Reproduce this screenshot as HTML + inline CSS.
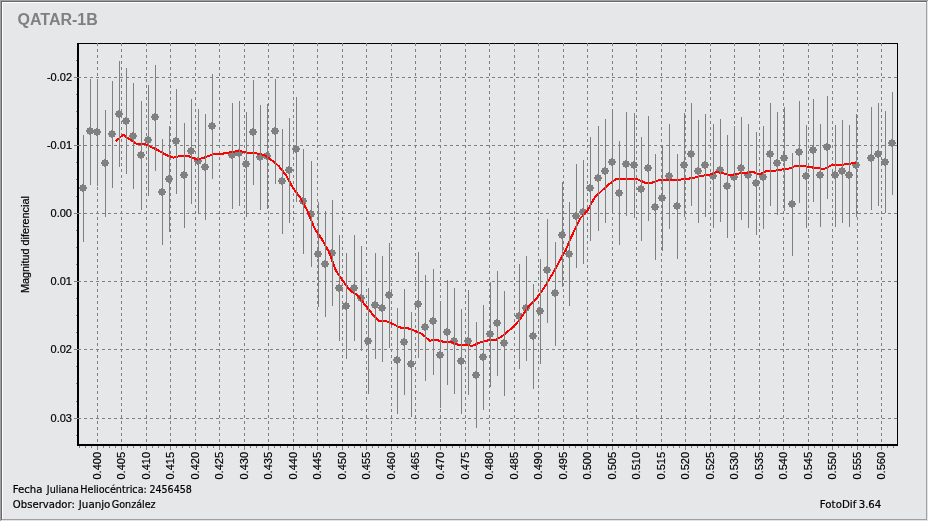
<!DOCTYPE html>
<html><head><meta charset="utf-8"><title>QATAR-1B</title>
<style>html,body{margin:0;padding:0;background:#e6e7e9;width:929px;height:522px;overflow:hidden}svg{display:block}</style>
</head><body>
<svg width="929" height="522" viewBox="0 0 929 522"><rect x="0" y="0" width="929" height="522" fill="#e6e7e9"/>
<rect x="0" y="0" width="928" height="1" fill="#a0a0a0"/>
<rect x="0" y="0" width="1" height="521" fill="#a0a0a0"/>
<rect x="1" y="1" width="926" height="1" fill="#696969"/>
<rect x="1" y="1" width="1" height="519" fill="#696969"/>
<rect x="2" y="2" width="924" height="1" fill="#ffffff"/>
<rect x="2" y="2" width="1" height="517" fill="#ffffff"/>
<rect x="926" y="2" width="1" height="518" fill="#a0a0a0"/>
<rect x="2" y="519" width="925" height="1" fill="#a0a0a0"/>
<rect x="927" y="1" width="1" height="520" fill="#e3e3e3"/>
<rect x="1" y="520" width="927" height="1" fill="#e3e3e3"/>
<rect x="928" y="0" width="1" height="522" fill="#ffffff"/>
<rect x="0" y="521" width="929" height="1" fill="#ffffff"/>
<g fill="#000" shape-rendering="crispEdges"><rect x="77" y="43" width="821" height="1"/><rect x="77" y="43" width="2" height="403"/><rect x="897" y="43" width="1" height="403"/><rect x="77" y="444" width="821" height="2"/></g>
<g stroke="#808080" stroke-width="1" stroke-dasharray="3 3" shape-rendering="crispEdges"><line x1="97.5" y1="43" x2="97.5" y2="444" /><line x1="121.5" y1="43" x2="121.5" y2="444" /><line x1="146.5" y1="43" x2="146.5" y2="444" /><line x1="170.5" y1="43" x2="170.5" y2="444" /><line x1="195.5" y1="43" x2="195.5" y2="444" /><line x1="219.5" y1="43" x2="219.5" y2="444" /><line x1="244.5" y1="43" x2="244.5" y2="444" /><line x1="268.5" y1="43" x2="268.5" y2="444" /><line x1="293.5" y1="43" x2="293.5" y2="444" /><line x1="317.5" y1="43" x2="317.5" y2="444" /><line x1="342.5" y1="43" x2="342.5" y2="444" /><line x1="366.5" y1="43" x2="366.5" y2="444" /><line x1="391.5" y1="43" x2="391.5" y2="444" /><line x1="415.5" y1="43" x2="415.5" y2="444" /><line x1="440.5" y1="43" x2="440.5" y2="444" /><line x1="465.5" y1="43" x2="465.5" y2="444" /><line x1="489.5" y1="43" x2="489.5" y2="444" /><line x1="514.5" y1="43" x2="514.5" y2="444" /><line x1="538.5" y1="43" x2="538.5" y2="444" /><line x1="563.5" y1="43" x2="563.5" y2="444" /><line x1="587.5" y1="43" x2="587.5" y2="444" /><line x1="612.5" y1="43" x2="612.5" y2="444" /><line x1="636.5" y1="43" x2="636.5" y2="444" /><line x1="661.5" y1="43" x2="661.5" y2="444" /><line x1="685.5" y1="43" x2="685.5" y2="444" /><line x1="710.5" y1="43" x2="710.5" y2="444" /><line x1="734.5" y1="43" x2="734.5" y2="444" /><line x1="759.5" y1="43" x2="759.5" y2="444" /><line x1="783.5" y1="43" x2="783.5" y2="444" /><line x1="808.5" y1="43" x2="808.5" y2="444" /><line x1="832.5" y1="43" x2="832.5" y2="444" /><line x1="857.5" y1="43" x2="857.5" y2="444" /><line x1="881.5" y1="43" x2="881.5" y2="444" /><line x1="78" y1="77.5" x2="897" y2="77.5" /><line x1="78" y1="145.5" x2="897" y2="145.5" /><line x1="78" y1="213.5" x2="897" y2="213.5" /><line x1="78" y1="281.5" x2="897" y2="281.5" /><line x1="78" y1="349.5" x2="897" y2="349.5" /><line x1="78" y1="418.5" x2="897" y2="418.5" /></g>
<g fill="#808080" shape-rendering="crispEdges"><path d="M82 184h2v1h2v2h1v2h-1v2h-2v1h-2v-1h-2v-2h-1v-2h1v-2h2z"/><path d="M89 127h2v1h2v2h1v2h-1v2h-2v1h-2v-1h-2v-2h-1v-2h1v-2h2z"/><path d="M96 128h2v1h2v2h1v2h-1v2h-2v1h-2v-1h-2v-2h-1v-2h1v-2h2z"/><path d="M104 159h2v1h2v2h1v2h-1v2h-2v1h-2v-1h-2v-2h-1v-2h1v-2h2z"/><path d="M111 130h2v1h2v2h1v2h-1v2h-2v1h-2v-1h-2v-2h-1v-2h1v-2h2z"/><path d="M118 110h2v1h2v2h1v2h-1v2h-2v1h-2v-1h-2v-2h-1v-2h1v-2h2z"/><path d="M125 117h2v1h2v2h1v2h-1v2h-2v1h-2v-1h-2v-2h-1v-2h1v-2h2z"/><path d="M132 132h2v1h2v2h1v2h-1v2h-2v1h-2v-1h-2v-2h-1v-2h1v-2h2z"/><path d="M140 151h2v1h2v2h1v2h-1v2h-2v1h-2v-1h-2v-2h-1v-2h1v-2h2z"/><path d="M147 136h2v1h2v2h1v2h-1v2h-2v1h-2v-1h-2v-2h-1v-2h1v-2h2z"/><path d="M154 113h2v1h2v2h1v2h-1v2h-2v1h-2v-1h-2v-2h-1v-2h1v-2h2z"/><path d="M161 188h2v1h2v2h1v2h-1v2h-2v1h-2v-1h-2v-2h-1v-2h1v-2h2z"/><path d="M168 175h2v1h2v2h1v2h-1v2h-2v1h-2v-1h-2v-2h-1v-2h1v-2h2z"/><path d="M175 137h2v1h2v2h1v2h-1v2h-2v1h-2v-1h-2v-2h-1v-2h1v-2h2z"/><path d="M183 171h2v1h2v2h1v2h-1v2h-2v1h-2v-1h-2v-2h-1v-2h1v-2h2z"/><path d="M190 147h2v1h2v2h1v2h-1v2h-2v1h-2v-1h-2v-2h-1v-2h1v-2h2z"/><path d="M197 157h2v1h2v2h1v2h-1v2h-2v1h-2v-1h-2v-2h-1v-2h1v-2h2z"/><path d="M204 163h2v1h2v2h1v2h-1v2h-2v1h-2v-1h-2v-2h-1v-2h1v-2h2z"/><path d="M211 122h2v1h2v2h1v2h-1v2h-2v1h-2v-1h-2v-2h-1v-2h1v-2h2z"/><path d="M231 151h2v1h2v2h1v2h-1v2h-2v1h-2v-1h-2v-2h-1v-2h1v-2h2z"/><path d="M238 149h2v1h2v2h1v2h-1v2h-2v1h-2v-1h-2v-2h-1v-2h1v-2h2z"/><path d="M245 160h2v1h2v2h1v2h-1v2h-2v1h-2v-1h-2v-2h-1v-2h1v-2h2z"/><path d="M252 128h2v1h2v2h1v2h-1v2h-2v1h-2v-1h-2v-2h-1v-2h1v-2h2z"/><path d="M259 153h2v1h2v2h1v2h-1v2h-2v1h-2v-1h-2v-2h-1v-2h1v-2h2z"/><path d="M266 152h2v1h2v2h1v2h-1v2h-2v1h-2v-1h-2v-2h-1v-2h1v-2h2z"/><path d="M274 127h2v1h2v2h1v2h-1v2h-2v1h-2v-1h-2v-2h-1v-2h1v-2h2z"/><path d="M281 177h2v1h2v2h1v2h-1v2h-2v1h-2v-1h-2v-2h-1v-2h1v-2h2z"/><path d="M288 166h2v1h2v2h1v2h-1v2h-2v1h-2v-1h-2v-2h-1v-2h1v-2h2z"/><path d="M295 145h2v1h2v2h1v2h-1v2h-2v1h-2v-1h-2v-2h-1v-2h1v-2h2z"/><path d="M302 197h2v1h2v2h1v2h-1v2h-2v1h-2v-1h-2v-2h-1v-2h1v-2h2z"/><path d="M310 210h2v1h2v2h1v2h-1v2h-2v1h-2v-1h-2v-2h-1v-2h1v-2h2z"/><path d="M317 250h2v1h2v2h1v2h-1v2h-2v1h-2v-1h-2v-2h-1v-2h1v-2h2z"/><path d="M324 260h2v1h2v2h1v2h-1v2h-2v1h-2v-1h-2v-2h-1v-2h1v-2h2z"/><path d="M331 249h2v1h2v2h1v2h-1v2h-2v1h-2v-1h-2v-2h-1v-2h1v-2h2z"/><path d="M338 284h2v1h2v2h1v2h-1v2h-2v1h-2v-1h-2v-2h-1v-2h1v-2h2z"/><path d="M345 302h2v1h2v2h1v2h-1v2h-2v1h-2v-1h-2v-2h-1v-2h1v-2h2z"/><path d="M353 284h2v1h2v2h1v2h-1v2h-2v1h-2v-1h-2v-2h-1v-2h1v-2h2z"/><path d="M360 294h2v1h2v2h1v2h-1v2h-2v1h-2v-1h-2v-2h-1v-2h1v-2h2z"/><path d="M367 337h2v1h2v2h1v2h-1v2h-2v1h-2v-1h-2v-2h-1v-2h1v-2h2z"/><path d="M374 301h2v1h2v2h1v2h-1v2h-2v1h-2v-1h-2v-2h-1v-2h1v-2h2z"/><path d="M381 304h2v1h2v2h1v2h-1v2h-2v1h-2v-1h-2v-2h-1v-2h1v-2h2z"/><path d="M388 291h2v1h2v2h1v2h-1v2h-2v1h-2v-1h-2v-2h-1v-2h1v-2h2z"/><path d="M396 356h2v1h2v2h1v2h-1v2h-2v1h-2v-1h-2v-2h-1v-2h1v-2h2z"/><path d="M403 338h2v1h2v2h1v2h-1v2h-2v1h-2v-1h-2v-2h-1v-2h1v-2h2z"/><path d="M410 360h2v1h2v2h1v2h-1v2h-2v1h-2v-1h-2v-2h-1v-2h1v-2h2z"/><path d="M417 300h2v1h2v2h1v2h-1v2h-2v1h-2v-1h-2v-2h-1v-2h1v-2h2z"/><path d="M424 323h2v1h2v2h1v2h-1v2h-2v1h-2v-1h-2v-2h-1v-2h1v-2h2z"/><path d="M432 317h2v1h2v2h1v2h-1v2h-2v1h-2v-1h-2v-2h-1v-2h1v-2h2z"/><path d="M439 351h2v1h2v2h1v2h-1v2h-2v1h-2v-1h-2v-2h-1v-2h1v-2h2z"/><path d="M446 328h2v1h2v2h1v2h-1v2h-2v1h-2v-1h-2v-2h-1v-2h1v-2h2z"/><path d="M453 337h2v1h2v2h1v2h-1v2h-2v1h-2v-1h-2v-2h-1v-2h1v-2h2z"/><path d="M460 357h2v1h2v2h1v2h-1v2h-2v1h-2v-1h-2v-2h-1v-2h1v-2h2z"/><path d="M467 337h2v1h2v2h1v2h-1v2h-2v1h-2v-1h-2v-2h-1v-2h1v-2h2z"/><path d="M475 371h2v1h2v2h1v2h-1v2h-2v1h-2v-1h-2v-2h-1v-2h1v-2h2z"/><path d="M482 353h2v1h2v2h1v2h-1v2h-2v1h-2v-1h-2v-2h-1v-2h1v-2h2z"/><path d="M489 330h2v1h2v2h1v2h-1v2h-2v1h-2v-1h-2v-2h-1v-2h1v-2h2z"/><path d="M496 319h2v1h2v2h1v2h-1v2h-2v1h-2v-1h-2v-2h-1v-2h1v-2h2z"/><path d="M503 339h2v1h2v2h1v2h-1v2h-2v1h-2v-1h-2v-2h-1v-2h1v-2h2z"/><path d="M518 312h2v1h2v2h1v2h-1v2h-2v1h-2v-1h-2v-2h-1v-2h1v-2h2z"/><path d="M525 304h2v1h2v2h1v2h-1v2h-2v1h-2v-1h-2v-2h-1v-2h1v-2h2z"/><path d="M532 332h2v1h2v2h1v2h-1v2h-2v1h-2v-1h-2v-2h-1v-2h1v-2h2z"/><path d="M539 307h2v1h2v2h1v2h-1v2h-2v1h-2v-1h-2v-2h-1v-2h1v-2h2z"/><path d="M546 266h2v1h2v2h1v2h-1v2h-2v1h-2v-1h-2v-2h-1v-2h1v-2h2z"/><path d="M554 289h2v1h2v2h1v2h-1v2h-2v1h-2v-1h-2v-2h-1v-2h1v-2h2z"/><path d="M561 231h2v1h2v2h1v2h-1v2h-2v1h-2v-1h-2v-2h-1v-2h1v-2h2z"/><path d="M568 250h2v1h2v2h1v2h-1v2h-2v1h-2v-1h-2v-2h-1v-2h1v-2h2z"/><path d="M575 212h2v1h2v2h1v2h-1v2h-2v1h-2v-1h-2v-2h-1v-2h1v-2h2z"/><path d="M582 208h2v1h2v2h1v2h-1v2h-2v1h-2v-1h-2v-2h-1v-2h1v-2h2z"/><path d="M589 184h2v1h2v2h1v2h-1v2h-2v1h-2v-1h-2v-2h-1v-2h1v-2h2z"/><path d="M597 174h2v1h2v2h1v2h-1v2h-2v1h-2v-1h-2v-2h-1v-2h1v-2h2z"/><path d="M604 167h2v1h2v2h1v2h-1v2h-2v1h-2v-1h-2v-2h-1v-2h1v-2h2z"/><path d="M611 158h2v1h2v2h1v2h-1v2h-2v1h-2v-1h-2v-2h-1v-2h1v-2h2z"/><path d="M618 189h2v1h2v2h1v2h-1v2h-2v1h-2v-1h-2v-2h-1v-2h1v-2h2z"/><path d="M625 160h2v1h2v2h1v2h-1v2h-2v1h-2v-1h-2v-2h-1v-2h1v-2h2z"/><path d="M633 161h2v1h2v2h1v2h-1v2h-2v1h-2v-1h-2v-2h-1v-2h1v-2h2z"/><path d="M640 185h2v1h2v2h1v2h-1v2h-2v1h-2v-1h-2v-2h-1v-2h1v-2h2z"/><path d="M647 164h2v1h2v2h1v2h-1v2h-2v1h-2v-1h-2v-2h-1v-2h1v-2h2z"/><path d="M654 203h2v1h2v2h1v2h-1v2h-2v1h-2v-1h-2v-2h-1v-2h1v-2h2z"/><path d="M661 194h2v1h2v2h1v2h-1v2h-2v1h-2v-1h-2v-2h-1v-2h1v-2h2z"/><path d="M668 172h2v1h2v2h1v2h-1v2h-2v1h-2v-1h-2v-2h-1v-2h1v-2h2z"/><path d="M676 202h2v1h2v2h1v2h-1v2h-2v1h-2v-1h-2v-2h-1v-2h1v-2h2z"/><path d="M683 161h2v1h2v2h1v2h-1v2h-2v1h-2v-1h-2v-2h-1v-2h1v-2h2z"/><path d="M690 150h2v1h2v2h1v2h-1v2h-2v1h-2v-1h-2v-2h-1v-2h1v-2h2z"/><path d="M697 167h2v1h2v2h1v2h-1v2h-2v1h-2v-1h-2v-2h-1v-2h1v-2h2z"/><path d="M704 161h2v1h2v2h1v2h-1v2h-2v1h-2v-1h-2v-2h-1v-2h1v-2h2z"/><path d="M712 172h2v1h2v2h1v2h-1v2h-2v1h-2v-1h-2v-2h-1v-2h1v-2h2z"/><path d="M719 166h2v1h2v2h1v2h-1v2h-2v1h-2v-1h-2v-2h-1v-2h1v-2h2z"/><path d="M726 182h2v1h2v2h1v2h-1v2h-2v1h-2v-1h-2v-2h-1v-2h1v-2h2z"/><path d="M733 173h2v1h2v2h1v2h-1v2h-2v1h-2v-1h-2v-2h-1v-2h1v-2h2z"/><path d="M740 164h2v1h2v2h1v2h-1v2h-2v1h-2v-1h-2v-2h-1v-2h1v-2h2z"/><path d="M747 171h2v1h2v2h1v2h-1v2h-2v1h-2v-1h-2v-2h-1v-2h1v-2h2z"/><path d="M755 179h2v1h2v2h1v2h-1v2h-2v1h-2v-1h-2v-2h-1v-2h1v-2h2z"/><path d="M762 173h2v1h2v2h1v2h-1v2h-2v1h-2v-1h-2v-2h-1v-2h1v-2h2z"/><path d="M769 150h2v1h2v2h1v2h-1v2h-2v1h-2v-1h-2v-2h-1v-2h1v-2h2z"/><path d="M776 159h2v1h2v2h1v2h-1v2h-2v1h-2v-1h-2v-2h-1v-2h1v-2h2z"/><path d="M783 154h2v1h2v2h1v2h-1v2h-2v1h-2v-1h-2v-2h-1v-2h1v-2h2z"/><path d="M791 200h2v1h2v2h1v2h-1v2h-2v1h-2v-1h-2v-2h-1v-2h1v-2h2z"/><path d="M798 148h2v1h2v2h1v2h-1v2h-2v1h-2v-1h-2v-2h-1v-2h1v-2h2z"/><path d="M805 172h2v1h2v2h1v2h-1v2h-2v1h-2v-1h-2v-2h-1v-2h1v-2h2z"/><path d="M812 146h2v1h2v2h1v2h-1v2h-2v1h-2v-1h-2v-2h-1v-2h1v-2h2z"/><path d="M819 171h2v1h2v2h1v2h-1v2h-2v1h-2v-1h-2v-2h-1v-2h1v-2h2z"/><path d="M826 143h2v1h2v2h1v2h-1v2h-2v1h-2v-1h-2v-2h-1v-2h1v-2h2z"/><path d="M834 171h2v1h2v2h1v2h-1v2h-2v1h-2v-1h-2v-2h-1v-2h1v-2h2z"/><path d="M841 167h2v1h2v2h1v2h-1v2h-2v1h-2v-1h-2v-2h-1v-2h1v-2h2z"/><path d="M848 171h2v1h2v2h1v2h-1v2h-2v1h-2v-1h-2v-2h-1v-2h1v-2h2z"/><path d="M855 161h2v1h2v2h1v2h-1v2h-2v1h-2v-1h-2v-2h-1v-2h1v-2h2z"/><path d="M870 154h2v1h2v2h1v2h-1v2h-2v1h-2v-1h-2v-2h-1v-2h1v-2h2z"/><path d="M877 150h2v1h2v2h1v2h-1v2h-2v1h-2v-1h-2v-2h-1v-2h1v-2h2z"/><path d="M884 158h2v1h2v2h1v2h-1v2h-2v1h-2v-1h-2v-2h-1v-2h1v-2h2z"/><path d="M891 139h2v1h2v2h1v2h-1v2h-2v1h-2v-1h-2v-2h-1v-2h1v-2h2z"/></g>
<polyline points="115.90,141.30 123.10,134.60 130.30,139.80 137.50,144.50 144.60,143.70 151.80,147.30 159.00,150.80 166.20,155.00 173.40,157.60 180.50,155.80 188.90,156.30 197.30,159.70 205.70,157.10 214.10,153.90 222.50,153.70 230.80,152.20 239.20,150.80 247.60,152.90 256.00,153.30 264.40,155.10 271.50,160.10 278.70,166.00 285.90,175.00 293.10,188.20 300.30,197.80 307.50,211.00 314.60,228.50 321.80,239.20 329.00,252.00 336.20,271.20 343.40,281.60 350.50,291.00 357.60,295.10 364.80,304.70 372.00,313.60 379.20,321.20 386.40,321.10 393.50,324.40 400.70,327.60 407.90,328.30 415.10,330.90 422.30,334.10 429.50,340.70 436.60,340.00 443.80,341.80 451.00,341.80 458.20,344.90 465.40,344.90 472.50,345.80 480.40,342.30 488.30,340.30 496.20,339.70 504.10,334.90 512.00,327.80 519.90,319.60 527.80,307.40 535.70,299.40 543.60,288.70 551.50,275.60 558.60,262.80 565.80,249.80 573.00,233.30 580.20,218.40 587.40,210.70 594.50,197.80 601.70,190.80 608.90,184.30 616.10,179.00 623.30,179.00 630.50,179.00 637.60,179.20 644.80,182.70 652.00,182.70 659.20,180.10 666.40,180.00 673.50,180.00 680.70,179.50 687.90,178.80 695.10,177.50 702.30,175.70 709.50,174.80 716.60,172.00 723.80,173.50 731.00,175.10 738.20,173.60 745.40,173.00 752.50,171.70 759.70,174.50 766.90,170.90 774.10,170.90 781.30,169.60 788.50,168.80 795.60,166.00 802.80,165.90 810.00,167.20 817.20,168.10 824.40,168.90 832.30,165.00 840.20,165.00 848.10,163.90 856.00,162.90" fill="none" stroke="#ff0000" stroke-width="2" stroke-linejoin="round" shape-rendering="crispEdges"/>
<g fill="#808080" shape-rendering="crispEdges"><rect x="83" y="135" width="1" height="107"/><rect x="90" y="79" width="1" height="106"/><rect x="97" y="79" width="1" height="107"/><rect x="105" y="110" width="1" height="107"/><rect x="112" y="81" width="1" height="107"/><rect x="119" y="61" width="1" height="106"/><rect x="126" y="68" width="1" height="106"/><rect x="133" y="83" width="1" height="106"/><rect x="141" y="101" width="1" height="109"/><rect x="148" y="85" width="1" height="111"/><rect x="155" y="65" width="1" height="106"/><rect x="162" y="139" width="1" height="106"/><rect x="169" y="126" width="1" height="106"/><rect x="176" y="89" width="1" height="105"/><rect x="184" y="123" width="1" height="105"/><rect x="191" y="99" width="1" height="105"/><rect x="198" y="109" width="1" height="105"/><rect x="205" y="114" width="1" height="106"/><rect x="212" y="74" width="1" height="105"/><rect x="232" y="103" width="1" height="106"/><rect x="239" y="101" width="1" height="105"/><rect x="246" y="112" width="1" height="105"/><rect x="253" y="80" width="1" height="105"/><rect x="260" y="105" width="1" height="105"/><rect x="267" y="104" width="1" height="105"/><rect x="275" y="79" width="1" height="105"/><rect x="282" y="129" width="1" height="105"/><rect x="289" y="118" width="1" height="105"/><rect x="296" y="97" width="1" height="105"/><rect x="303" y="149" width="1" height="105"/><rect x="311" y="161" width="1" height="106"/><rect x="318" y="202" width="1" height="105"/><rect x="325" y="211" width="1" height="106"/><rect x="332" y="200" width="1" height="106"/><rect x="339" y="235" width="1" height="106"/><rect x="346" y="253" width="1" height="106"/><rect x="354" y="235" width="1" height="106"/><rect x="361" y="246" width="1" height="105"/><rect x="368" y="288" width="1" height="106"/><rect x="375" y="253" width="1" height="106"/><rect x="382" y="256" width="1" height="106"/><rect x="389" y="243" width="1" height="105"/><rect x="397" y="308" width="1" height="106"/><rect x="404" y="289" width="1" height="106"/><rect x="411" y="312" width="1" height="105"/><rect x="418" y="252" width="1" height="106"/><rect x="425" y="275" width="1" height="106"/><rect x="433" y="269" width="1" height="106"/><rect x="440" y="301" width="1" height="107"/><rect x="447" y="280" width="1" height="105"/><rect x="454" y="288" width="1" height="106"/><rect x="461" y="309" width="1" height="105"/><rect x="468" y="290" width="1" height="105"/><rect x="476" y="322" width="1" height="106"/><rect x="483" y="305" width="1" height="105"/><rect x="490" y="282" width="1" height="105"/><rect x="497" y="271" width="1" height="105"/><rect x="504" y="291" width="1" height="105"/><rect x="519" y="264" width="1" height="105"/><rect x="526" y="256" width="1" height="105"/><rect x="533" y="284" width="1" height="105"/><rect x="540" y="259" width="1" height="105"/><rect x="547" y="219" width="1" height="104"/><rect x="555" y="242" width="1" height="104"/><rect x="562" y="182" width="1" height="105"/><rect x="569" y="202" width="1" height="104"/><rect x="576" y="164" width="1" height="104"/><rect x="583" y="160" width="1" height="104"/><rect x="590" y="137" width="1" height="104"/><rect x="598" y="126" width="1" height="105"/><rect x="605" y="119" width="1" height="104"/><rect x="612" y="109" width="1" height="104"/><rect x="619" y="141" width="1" height="104"/><rect x="626" y="112" width="1" height="104"/><rect x="634" y="113" width="1" height="105"/><rect x="641" y="137" width="1" height="104"/><rect x="648" y="116" width="1" height="105"/><rect x="655" y="154" width="1" height="106"/><rect x="662" y="145" width="1" height="106"/><rect x="669" y="124" width="1" height="105"/><rect x="677" y="154" width="1" height="105"/><rect x="684" y="113" width="1" height="104"/><rect x="691" y="103" width="1" height="103"/><rect x="698" y="120" width="1" height="103"/><rect x="705" y="114" width="1" height="103"/><rect x="713" y="124" width="1" height="104"/><rect x="720" y="119" width="1" height="103"/><rect x="727" y="135" width="1" height="103"/><rect x="734" y="126" width="1" height="106"/><rect x="741" y="117" width="1" height="103"/><rect x="748" y="124" width="1" height="104"/><rect x="756" y="132" width="1" height="103"/><rect x="763" y="126" width="1" height="103"/><rect x="770" y="103" width="1" height="103"/><rect x="777" y="112" width="1" height="103"/><rect x="784" y="107" width="1" height="104"/><rect x="792" y="153" width="1" height="103"/><rect x="799" y="101" width="1" height="102"/><rect x="806" y="125" width="1" height="103"/><rect x="813" y="99" width="1" height="103"/><rect x="820" y="124" width="1" height="103"/><rect x="827" y="96" width="1" height="103"/><rect x="835" y="125" width="1" height="102"/><rect x="842" y="120" width="1" height="103"/><rect x="849" y="125" width="1" height="102"/><rect x="856" y="114" width="1" height="103"/><rect x="871" y="107" width="1" height="103"/><rect x="878" y="103" width="1" height="103"/><rect x="885" y="111" width="1" height="102"/><rect x="892" y="92" width="1" height="103"/></g>
<g fill="#808080" shape-rendering="crispEdges"><rect x="74" y="77" width="5" height="1"/><rect x="74" y="145" width="5" height="1"/><rect x="74" y="213" width="5" height="1"/><rect x="74" y="281" width="5" height="1"/><rect x="74" y="349" width="5" height="1"/><rect x="74" y="418" width="5" height="1"/><rect x="76" y="60" width="1" height="1"/><rect x="76" y="94" width="1" height="1"/><rect x="76" y="111" width="1" height="1"/><rect x="76" y="128" width="1" height="1"/><rect x="76" y="162" width="1" height="1"/><rect x="76" y="179" width="1" height="1"/><rect x="76" y="196" width="1" height="1"/><rect x="76" y="230" width="1" height="1"/><rect x="76" y="247" width="1" height="1"/><rect x="76" y="264" width="1" height="1"/><rect x="76" y="298" width="1" height="1"/><rect x="76" y="315" width="1" height="1"/><rect x="76" y="332" width="1" height="1"/><rect x="76" y="366" width="1" height="1"/><rect x="76" y="383" width="1" height="1"/><rect x="76" y="401" width="1" height="1"/><rect x="76" y="435" width="1" height="1"/><rect x="97" y="446" width="1" height="4"/><rect x="121" y="446" width="1" height="4"/><rect x="146" y="446" width="1" height="4"/><rect x="170" y="446" width="1" height="4"/><rect x="195" y="446" width="1" height="4"/><rect x="219" y="446" width="1" height="4"/><rect x="244" y="446" width="1" height="4"/><rect x="268" y="446" width="1" height="4"/><rect x="293" y="446" width="1" height="4"/><rect x="317" y="446" width="1" height="4"/><rect x="342" y="446" width="1" height="4"/><rect x="366" y="446" width="1" height="4"/><rect x="391" y="446" width="1" height="4"/><rect x="415" y="446" width="1" height="4"/><rect x="440" y="446" width="1" height="4"/><rect x="465" y="446" width="1" height="4"/><rect x="489" y="446" width="1" height="4"/><rect x="514" y="446" width="1" height="4"/><rect x="538" y="446" width="1" height="4"/><rect x="563" y="446" width="1" height="4"/><rect x="587" y="446" width="1" height="4"/><rect x="612" y="446" width="1" height="4"/><rect x="636" y="446" width="1" height="4"/><rect x="661" y="446" width="1" height="4"/><rect x="685" y="446" width="1" height="4"/><rect x="710" y="446" width="1" height="4"/><rect x="734" y="446" width="1" height="4"/><rect x="759" y="446" width="1" height="4"/><rect x="783" y="446" width="1" height="4"/><rect x="808" y="446" width="1" height="4"/><rect x="832" y="446" width="1" height="4"/><rect x="857" y="446" width="1" height="4"/><rect x="881" y="446" width="1" height="4"/><rect x="79" y="446" width="1" height="2"/><rect x="85" y="446" width="1" height="2"/><rect x="91" y="446" width="1" height="2"/><rect x="103" y="446" width="1" height="2"/><rect x="109" y="446" width="1" height="2"/><rect x="115" y="446" width="1" height="2"/><rect x="127" y="446" width="1" height="2"/><rect x="133" y="446" width="1" height="2"/><rect x="140" y="446" width="1" height="2"/><rect x="152" y="446" width="1" height="2"/><rect x="158" y="446" width="1" height="2"/><rect x="164" y="446" width="1" height="2"/><rect x="176" y="446" width="1" height="2"/><rect x="182" y="446" width="1" height="2"/><rect x="189" y="446" width="1" height="2"/><rect x="201" y="446" width="1" height="2"/><rect x="207" y="446" width="1" height="2"/><rect x="213" y="446" width="1" height="2"/><rect x="225" y="446" width="1" height="2"/><rect x="231" y="446" width="1" height="2"/><rect x="238" y="446" width="1" height="2"/><rect x="250" y="446" width="1" height="2"/><rect x="256" y="446" width="1" height="2"/><rect x="262" y="446" width="1" height="2"/><rect x="274" y="446" width="1" height="2"/><rect x="280" y="446" width="1" height="2"/><rect x="287" y="446" width="1" height="2"/><rect x="299" y="446" width="1" height="2"/><rect x="305" y="446" width="1" height="2"/><rect x="311" y="446" width="1" height="2"/><rect x="323" y="446" width="1" height="2"/><rect x="329" y="446" width="1" height="2"/><rect x="336" y="446" width="1" height="2"/><rect x="348" y="446" width="1" height="2"/><rect x="354" y="446" width="1" height="2"/><rect x="360" y="446" width="1" height="2"/><rect x="372" y="446" width="1" height="2"/><rect x="378" y="446" width="1" height="2"/><rect x="385" y="446" width="1" height="2"/><rect x="397" y="446" width="1" height="2"/><rect x="403" y="446" width="1" height="2"/><rect x="409" y="446" width="1" height="2"/><rect x="421" y="446" width="1" height="2"/><rect x="427" y="446" width="1" height="2"/><rect x="434" y="446" width="1" height="2"/><rect x="446" y="446" width="1" height="2"/><rect x="452" y="446" width="1" height="2"/><rect x="459" y="446" width="1" height="2"/><rect x="471" y="446" width="1" height="2"/><rect x="477" y="446" width="1" height="2"/><rect x="483" y="446" width="1" height="2"/><rect x="495" y="446" width="1" height="2"/><rect x="501" y="446" width="1" height="2"/><rect x="508" y="446" width="1" height="2"/><rect x="520" y="446" width="1" height="2"/><rect x="526" y="446" width="1" height="2"/><rect x="532" y="446" width="1" height="2"/><rect x="544" y="446" width="1" height="2"/><rect x="550" y="446" width="1" height="2"/><rect x="557" y="446" width="1" height="2"/><rect x="569" y="446" width="1" height="2"/><rect x="575" y="446" width="1" height="2"/><rect x="581" y="446" width="1" height="2"/><rect x="593" y="446" width="1" height="2"/><rect x="599" y="446" width="1" height="2"/><rect x="606" y="446" width="1" height="2"/><rect x="618" y="446" width="1" height="2"/><rect x="624" y="446" width="1" height="2"/><rect x="630" y="446" width="1" height="2"/><rect x="642" y="446" width="1" height="2"/><rect x="648" y="446" width="1" height="2"/><rect x="655" y="446" width="1" height="2"/><rect x="667" y="446" width="1" height="2"/><rect x="673" y="446" width="1" height="2"/><rect x="679" y="446" width="1" height="2"/><rect x="691" y="446" width="1" height="2"/><rect x="697" y="446" width="1" height="2"/><rect x="704" y="446" width="1" height="2"/><rect x="716" y="446" width="1" height="2"/><rect x="722" y="446" width="1" height="2"/><rect x="728" y="446" width="1" height="2"/><rect x="740" y="446" width="1" height="2"/><rect x="746" y="446" width="1" height="2"/><rect x="753" y="446" width="1" height="2"/><rect x="765" y="446" width="1" height="2"/><rect x="771" y="446" width="1" height="2"/><rect x="777" y="446" width="1" height="2"/><rect x="789" y="446" width="1" height="2"/><rect x="795" y="446" width="1" height="2"/><rect x="802" y="446" width="1" height="2"/><rect x="814" y="446" width="1" height="2"/><rect x="820" y="446" width="1" height="2"/><rect x="826" y="446" width="1" height="2"/><rect x="838" y="446" width="1" height="2"/><rect x="844" y="446" width="1" height="2"/><rect x="851" y="446" width="1" height="2"/><rect x="863" y="446" width="1" height="2"/><rect x="869" y="446" width="1" height="2"/><rect x="875" y="446" width="1" height="2"/><rect x="887" y="446" width="1" height="2"/><rect x="893" y="446" width="1" height="2"/></g>
<text x="17.5" y="25" font-family="'Liberation Sans', Arial, sans-serif" font-weight="bold" font-size="16" fill="#808080">QATAR-1B</text><text x="72" y="81" text-anchor="end" font-family="'Liberation Sans', Arial, sans-serif" font-size="11" fill="#000" stroke="#000" stroke-width="0.2">-0.02</text><text x="72" y="149" text-anchor="end" font-family="'Liberation Sans', Arial, sans-serif" font-size="11" fill="#000" stroke="#000" stroke-width="0.2">-0.01</text><text x="72" y="217" text-anchor="end" font-family="'Liberation Sans', Arial, sans-serif" font-size="11" fill="#000" stroke="#000" stroke-width="0.2">0.00</text><text x="72" y="285" text-anchor="end" font-family="'Liberation Sans', Arial, sans-serif" font-size="11" fill="#000" stroke="#000" stroke-width="0.2">0.01</text><text x="72" y="353" text-anchor="end" font-family="'Liberation Sans', Arial, sans-serif" font-size="11" fill="#000" stroke="#000" stroke-width="0.2">0.02</text><text x="72" y="422" text-anchor="end" font-family="'Liberation Sans', Arial, sans-serif" font-size="11" fill="#000" stroke="#000" stroke-width="0.2">0.03</text><text transform="translate(100.5,452) rotate(-90)" text-anchor="end" font-family="'Liberation Sans', Arial, sans-serif" font-size="11" fill="#000" stroke="#000" stroke-width="0.2">0.400</text><text transform="translate(124.5,452) rotate(-90)" text-anchor="end" font-family="'Liberation Sans', Arial, sans-serif" font-size="11" fill="#000" stroke="#000" stroke-width="0.2">0.405</text><text transform="translate(149.5,452) rotate(-90)" text-anchor="end" font-family="'Liberation Sans', Arial, sans-serif" font-size="11" fill="#000" stroke="#000" stroke-width="0.2">0.410</text><text transform="translate(173.5,452) rotate(-90)" text-anchor="end" font-family="'Liberation Sans', Arial, sans-serif" font-size="11" fill="#000" stroke="#000" stroke-width="0.2">0.415</text><text transform="translate(198.5,452) rotate(-90)" text-anchor="end" font-family="'Liberation Sans', Arial, sans-serif" font-size="11" fill="#000" stroke="#000" stroke-width="0.2">0.420</text><text transform="translate(222.5,452) rotate(-90)" text-anchor="end" font-family="'Liberation Sans', Arial, sans-serif" font-size="11" fill="#000" stroke="#000" stroke-width="0.2">0.425</text><text transform="translate(247.5,452) rotate(-90)" text-anchor="end" font-family="'Liberation Sans', Arial, sans-serif" font-size="11" fill="#000" stroke="#000" stroke-width="0.2">0.430</text><text transform="translate(271.5,452) rotate(-90)" text-anchor="end" font-family="'Liberation Sans', Arial, sans-serif" font-size="11" fill="#000" stroke="#000" stroke-width="0.2">0.435</text><text transform="translate(296.5,452) rotate(-90)" text-anchor="end" font-family="'Liberation Sans', Arial, sans-serif" font-size="11" fill="#000" stroke="#000" stroke-width="0.2">0.440</text><text transform="translate(320.5,452) rotate(-90)" text-anchor="end" font-family="'Liberation Sans', Arial, sans-serif" font-size="11" fill="#000" stroke="#000" stroke-width="0.2">0.445</text><text transform="translate(345.5,452) rotate(-90)" text-anchor="end" font-family="'Liberation Sans', Arial, sans-serif" font-size="11" fill="#000" stroke="#000" stroke-width="0.2">0.450</text><text transform="translate(369.5,452) rotate(-90)" text-anchor="end" font-family="'Liberation Sans', Arial, sans-serif" font-size="11" fill="#000" stroke="#000" stroke-width="0.2">0.455</text><text transform="translate(394.5,452) rotate(-90)" text-anchor="end" font-family="'Liberation Sans', Arial, sans-serif" font-size="11" fill="#000" stroke="#000" stroke-width="0.2">0.460</text><text transform="translate(418.5,452) rotate(-90)" text-anchor="end" font-family="'Liberation Sans', Arial, sans-serif" font-size="11" fill="#000" stroke="#000" stroke-width="0.2">0.465</text><text transform="translate(443.5,452) rotate(-90)" text-anchor="end" font-family="'Liberation Sans', Arial, sans-serif" font-size="11" fill="#000" stroke="#000" stroke-width="0.2">0.470</text><text transform="translate(468.5,452) rotate(-90)" text-anchor="end" font-family="'Liberation Sans', Arial, sans-serif" font-size="11" fill="#000" stroke="#000" stroke-width="0.2">0.475</text><text transform="translate(492.5,452) rotate(-90)" text-anchor="end" font-family="'Liberation Sans', Arial, sans-serif" font-size="11" fill="#000" stroke="#000" stroke-width="0.2">0.480</text><text transform="translate(517.5,452) rotate(-90)" text-anchor="end" font-family="'Liberation Sans', Arial, sans-serif" font-size="11" fill="#000" stroke="#000" stroke-width="0.2">0.485</text><text transform="translate(541.5,452) rotate(-90)" text-anchor="end" font-family="'Liberation Sans', Arial, sans-serif" font-size="11" fill="#000" stroke="#000" stroke-width="0.2">0.490</text><text transform="translate(566.5,452) rotate(-90)" text-anchor="end" font-family="'Liberation Sans', Arial, sans-serif" font-size="11" fill="#000" stroke="#000" stroke-width="0.2">0.495</text><text transform="translate(590.5,452) rotate(-90)" text-anchor="end" font-family="'Liberation Sans', Arial, sans-serif" font-size="11" fill="#000" stroke="#000" stroke-width="0.2">0.500</text><text transform="translate(615.5,452) rotate(-90)" text-anchor="end" font-family="'Liberation Sans', Arial, sans-serif" font-size="11" fill="#000" stroke="#000" stroke-width="0.2">0.505</text><text transform="translate(639.5,452) rotate(-90)" text-anchor="end" font-family="'Liberation Sans', Arial, sans-serif" font-size="11" fill="#000" stroke="#000" stroke-width="0.2">0.510</text><text transform="translate(664.5,452) rotate(-90)" text-anchor="end" font-family="'Liberation Sans', Arial, sans-serif" font-size="11" fill="#000" stroke="#000" stroke-width="0.2">0.515</text><text transform="translate(688.5,452) rotate(-90)" text-anchor="end" font-family="'Liberation Sans', Arial, sans-serif" font-size="11" fill="#000" stroke="#000" stroke-width="0.2">0.520</text><text transform="translate(713.5,452) rotate(-90)" text-anchor="end" font-family="'Liberation Sans', Arial, sans-serif" font-size="11" fill="#000" stroke="#000" stroke-width="0.2">0.525</text><text transform="translate(737.5,452) rotate(-90)" text-anchor="end" font-family="'Liberation Sans', Arial, sans-serif" font-size="11" fill="#000" stroke="#000" stroke-width="0.2">0.530</text><text transform="translate(762.5,452) rotate(-90)" text-anchor="end" font-family="'Liberation Sans', Arial, sans-serif" font-size="11" fill="#000" stroke="#000" stroke-width="0.2">0.535</text><text transform="translate(786.5,452) rotate(-90)" text-anchor="end" font-family="'Liberation Sans', Arial, sans-serif" font-size="11" fill="#000" stroke="#000" stroke-width="0.2">0.540</text><text transform="translate(811.5,452) rotate(-90)" text-anchor="end" font-family="'Liberation Sans', Arial, sans-serif" font-size="11" fill="#000" stroke="#000" stroke-width="0.2">0.545</text><text transform="translate(835.5,452) rotate(-90)" text-anchor="end" font-family="'Liberation Sans', Arial, sans-serif" font-size="11" fill="#000" stroke="#000" stroke-width="0.2">0.550</text><text transform="translate(860.5,452) rotate(-90)" text-anchor="end" font-family="'Liberation Sans', Arial, sans-serif" font-size="11" fill="#000" stroke="#000" stroke-width="0.2">0.555</text><text transform="translate(884.5,452) rotate(-90)" text-anchor="end" font-family="'Liberation Sans', Arial, sans-serif" font-size="11" fill="#000" stroke="#000" stroke-width="0.2">0.560</text><text transform="translate(29,244.6) rotate(-90)" text-anchor="middle" font-family="'Liberation Sans', Arial, sans-serif" font-size="11" fill="#000" stroke="#000" stroke-width="0.2" textLength="96.9" lengthAdjust="spacingAndGlyphs">Magnitud diferencial</text><text x="12.88" y="493" font-family="'DejaVu Sans Condensed', 'DejaVu Sans', sans-serif" font-size="11" fill="#000" stroke="#000" stroke-width="0.2" textLength="29.61" lengthAdjust="spacingAndGlyphs">Fecha</text><text x="46.87" y="493" font-family="'DejaVu Sans Condensed', 'DejaVu Sans', sans-serif" font-size="11" fill="#000" stroke="#000" stroke-width="0.2" textLength="31.99" lengthAdjust="spacingAndGlyphs">Juliana</text><text x="80.23" y="493" font-family="'DejaVu Sans Condensed', 'DejaVu Sans', sans-serif" font-size="11" fill="#000" stroke="#000" stroke-width="0.2" textLength="66.57" lengthAdjust="spacingAndGlyphs">Heliocéntrica:</text><text x="149.44" y="493" font-family="'DejaVu Sans Condensed', 'DejaVu Sans', sans-serif" font-size="11" fill="#000" stroke="#000" stroke-width="0.2" textLength="42.40" lengthAdjust="spacingAndGlyphs">2456458</text><text x="12.88" y="508" font-family="'DejaVu Sans Condensed', 'DejaVu Sans', sans-serif" font-size="11" fill="#000" stroke="#000" stroke-width="0.2" textLength="61.99" lengthAdjust="spacingAndGlyphs">Observador:</text><text x="78.84" y="508" font-family="'DejaVu Sans Condensed', 'DejaVu Sans', sans-serif" font-size="11" fill="#000" stroke="#000" stroke-width="0.2" textLength="31.61" lengthAdjust="spacingAndGlyphs">Juanjo</text><text x="111.83" y="508" font-family="'DejaVu Sans Condensed', 'DejaVu Sans', sans-serif" font-size="11" fill="#000" stroke="#000" stroke-width="0.2" textLength="43.76" lengthAdjust="spacingAndGlyphs">González</text><text x="819.86" y="508" font-family="'DejaVu Sans Condensed', 'DejaVu Sans', sans-serif" font-size="11" fill="#000" stroke="#000" stroke-width="0.2" textLength="36.38" lengthAdjust="spacingAndGlyphs">FotoDif</text><text x="858.67" y="508" font-family="'DejaVu Sans Condensed', 'DejaVu Sans', sans-serif" font-size="11" fill="#000" stroke="#000" stroke-width="0.2" textLength="22.66" lengthAdjust="spacingAndGlyphs">3.64</text></svg>
</body></html>
